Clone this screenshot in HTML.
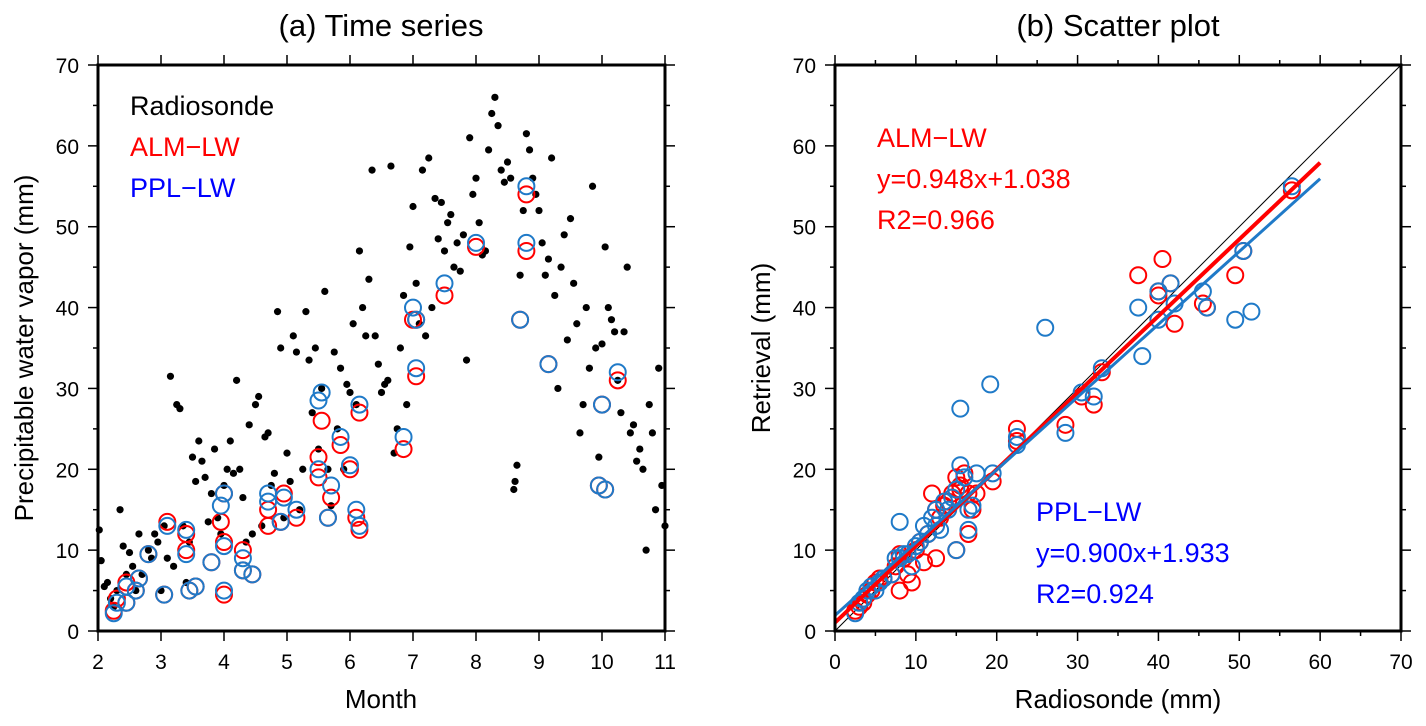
<!DOCTYPE html>
<html><head><meta charset="utf-8"><style>
body{margin:0;background:#fff;}
svg{display:block;font-family:"Liberation Sans",Arial,sans-serif;}
</style></head><body>
<svg id="s" width="1426" height="726" viewBox="0 0 1426 726"></svg>
<script>
// ---- Panel (a) data ----
const dotMonth=[2.02,2.05,2.1,2.15,2.2,2.25,2.3,2.35,2.4,2.45,2.5,2.55,2.6,2.65,2.7,2.8,2.85,2.9,2.95,3.0,3.05,3.1,3.15,3.2,3.25,3.3,3.35,3.4,3.45,3.5,3.55,3.6,3.65,3.7,3.75,3.8,3.85,3.9,3.95,4.0,4.05,4.1,4.15,4.2,4.25,4.3,4.35,4.4,4.45,4.5,4.55,4.6,4.65,4.7,4.75,4.8,4.85,4.9,4.95,5.0,5.05,5.1,5.15,5.2,5.25,5.3,5.35,5.4,5.45,5.5,5.55,5.6,5.65,5.7,5.75,5.8,5.85,5.9,5.95,6.0,6.05,6.1,6.15,6.2,6.25,6.3,6.35,6.4,6.45,6.5,6.55,6.6,6.65,6.7,6.75,6.8,6.85,6.9,6.95,7.0,7.05,7.1,7.15,7.2,7.25,7.3,7.35,7.4,7.45,7.5,7.55,7.6,7.65,7.7,7.75,7.8,7.85,7.9,7.95,8.0,8.05,8.1,8.15,8.2,8.25,8.3,8.35,8.4,8.45,8.5,8.55,8.6,8.62,8.65,8.7,8.75,8.8,8.85,8.9,8.95,9.0,9.05,9.1,9.15,9.2,9.25,9.3,9.35,9.4,9.45,9.5,9.55,9.6,9.65,9.7,9.75,9.8,9.85,9.9,9.95,10.0,10.05,10.1,10.15,10.2,10.25,10.3,10.35,10.4,10.45,10.5,10.55,10.6,10.65,10.7,10.75,10.8,10.85,10.9,10.95,11.0];
const dotValue=[12.5,8.7,5.5,6,4,3,5,15,10.5,7,9.7,8,5,12,7,10,9,12,11,5,13,9,31.5,8,28,27.5,13,6,11,21.5,18.5,23.5,21,19,13.5,17,22.5,14,12,18,20,23.5,19.5,31,20,16.5,11,25.5,12,28,29,13,24,24.5,18,19.5,39.5,35,14,22,18.5,36.5,34.5,15,20,39.5,33.5,27,35,22.5,30,42,20,15.5,34.5,25,32.5,20,30.5,29.5,38,28,47,40,36.5,43.5,57,36.5,33,29.5,30.5,31,57.5,22,25,35,41.5,28,47.5,52.5,43,38,57,36.5,58.5,40,53.5,48.5,53,47,50.5,51.5,45,48,44.5,49,33.5,61,54,56,50.5,46.5,47,59.5,64,66,62.5,57,55.5,58,56,17.5,18.5,20.5,44,52,61.5,59.5,56,54,52,48,44,46,58.5,41.5,30,45,49,36,51,43,38,24.5,28,40,32.5,55,35,21.5,35.5,47.5,40,38.5,37,31,27,37,45,24.5,25.5,21,22.5,20,10,28,24.5,15,32.5,18,13];
const retMonth=[2.25,2.3,2.45,2.45,2.6,2.65,2.8,3.05,3.1,3.4,3.4,3.45,3.55,3.8,3.95,4.0,4.0,4.0,4.3,4.3,4.45,4.7,4.7,4.9,4.95,5.15,5.5,5.5,5.55,5.65,5.7,5.85,6.0,6.1,6.15,6.15,6.85,7.0,7.05,7.05,7.5,8.0,8.7,8.8,8.8,9.15,9.95,10.0,10.05,10.25];
const almValue=[2.5,4,3.5,6,5,6.5,9.5,4.5,13.5,12,10,5,5.5,8.5,13.5,4.5,17,11,7.5,10,7,15,13,13.5,17,14,19,21.5,26,14,16.5,23,20,14,12.5,27,22.5,38.5,31.5,38.5,41.5,47.5,38.5,47,54,33,18,28,17.5,31];
const pplValue=[2.2,3.5,3.5,5.5,5,6.5,9.5,4.5,13,12.5,9.5,5,5.5,8.5,15.5,5,17,10.5,7.5,9,7,17,16,13.5,16.5,15,20,28.5,29.5,14,18,24,20.5,15,13,28,24,40,32.5,38.5,43,48,38.5,48,55,33,18,28,17.5,32];
// ---- Panel (b) data ----
const sondeX=[2.5,3,3.5,4,4.5,5,5.5,6,7,7.5,8,8,8.5,9,9.5,10,10.5,11,11.5,12,12.5,12.5,13,13.5,14,14.5,15,15,15.5,15.5,16,16.5,16.5,17,17.5,19.5,22.5,22.5,26,19.2,28.5,30.5,32,33,37.5,38,40,40,40.5,41.5,42,45.5,46,49.5,50.5,51.5,56.5];
const almY=[2.5,3,3.5,4.5,5,6,6.5,6.5,7,8,5,9.5,9,7,6,10,11,8.5,12,17,9,15,14,15.5,16,17,10,19,18,17.5,19.5,12,17,15,17,18.5,25,23.5,null,null,25.5,29,28,32,44,null,42,41.5,46,43,38,40.5,40,44,47,null,54.5];
const pplY=[2.2,3.5,4,5,5.5,5,6,6.5,7,9,13.5,9,9.5,9.5,8,10.5,11,13,12,14,13,15,12.5,16,15,16.5,10,17.5,27.5,20.5,19,12.5,15,15.5,19.5,19.5,24,23,37.5,30.5,24.5,29.5,29,32.5,40,34,38.5,42,null,43,40.5,42,40,38.5,47,39.5,55];
const almFit=[0.948,1.038], pplFit=[0.900,1.933];
const yTicks=[0,10,20,30,40,50,60,70];
const monthTicks=[2,3,4,5,6,7,8,9,10,11];
const scatterTicks=[0,10,20,30,40,50,60,70];

const NS="http://www.w3.org/2000/svg", S=document.getElementById('s');
function mk(t,a,p){const e=document.createElementNS(NS,t);for(const k in a)e.setAttribute(k,a[k]);(p||S).appendChild(e);return e;}
function txt(x,y,s,size,anchor,fill,p){const e=mk('text',{x:x,y:y,'font-size':size,'text-anchor':anchor||'middle',fill:fill||'#000'},p);e.textContent=s;return e;}
const RED='#ff0000', BLU='#1f7ac8';

// Panel A
const A={l:98,r:665,t:65,b:631};
const ax=m=>A.l+(m-2)/9*(A.r-A.l), ay=v=>A.b-v/70*(A.b-A.t);
const gA=mk('g',{});  
const gDots=mk('g',{},gA);  
dotMonth.forEach((m,i)=>{const c=mk('circle',{cx:ax(m),cy:ay(dotValue[i]),r:3.6,fill:'#000'},gDots);

});
const gAlm=mk('g',{},gA);  
retMonth.forEach((m,i)=>{const c=mk('circle',{cx:ax(m),cy:ay(almValue[i]),r:8,fill:'none',stroke:RED,'stroke-width':2},gAlm);

});
const gPpl=mk('g',{},gA);  
retMonth.forEach((m,i)=>{const c=mk('circle',{cx:ax(m),cy:ay(pplValue[i]),r:8,fill:'none',stroke:BLU,'stroke-width':2},gPpl);

});

// Panel B
const B={l:835,r:1401,t:65,b:631};
const bx=v=>B.l+v/70*(B.r-B.l), by=v=>B.b-v/70*(B.b-B.t);
const gB=mk('g',{});  
const cp=mk('clipPath',{id:'cb'}); mk('rect',{x:B.l,y:B.t,width:B.r-B.l,height:B.b-B.t},cp);
const one=mk('line',{x1:bx(0),y1:by(0),x2:bx(70),y2:by(70),stroke:'#000','stroke-width':1},gB);
 
const gSA=mk('g',{},gB);  
sondeX.forEach((x,i)=>{if(almY[i]==null)return;const c=mk('circle',{cx:bx(x),cy:by(almY[i]),r:8,fill:'none',stroke:RED,'stroke-width':2},gSA);

});
const gSP=mk('g',{},gB);  
sondeX.forEach((x,i)=>{if(pplY[i]==null)return;const c=mk('circle',{cx:bx(x),cy:by(pplY[i]),r:8,fill:'none',stroke:BLU,'stroke-width':2},gSP);

});
const fa=mk('line',{x1:bx(0),y1:by(almFit[1]),x2:bx(60),y2:by(almFit[0]*60+almFit[1]),stroke:RED,'stroke-width':4,'clip-path':'url(#cb)'},gB);
 
const fp=mk('line',{x1:bx(0),y1:by(pplFit[1]),x2:bx(60),y2:by(pplFit[0]*60+pplFit[1]),stroke:BLU,'stroke-width':3,'clip-path':'url(#cb)'},gB);
 

// Frames & ticks
function frame(P,g){const r=mk('rect',{x:P.l,y:P.t,width:P.r-P.l,height:P.b-P.t,fill:'none',stroke:'#000','stroke-width':3},g);
 }
frame(A,gA); frame(B,gB);
function tk(x1,y1,x2,y2,g){mk('line',{x1:x1,y1:y1,x2:x2,y2:y2,stroke:'#000','stroke-width':1.5},g);}
const gAx=mk('g',{},gA);  
monthTicks.forEach(m=>{const x=ax(m);tk(x,A.b,x,A.b+10,gAx);tk(x,A.t,x,A.t-10,gAx);txt(x,A.b+38,String(m),21,'middle','#000',gAx);});
yTicks.forEach(v=>{const y=ay(v);tk(A.l,y,A.l-10,y,gAx);tk(A.r,y,A.r+10,y,gAx);txt(A.l-19,y+8,String(v),21,'end','#000',gAx);
 if(v<70){const y2=ay(v+5);tk(A.l,y2,A.l-5,y2,gAx);tk(A.r,y2,A.r+5,y2,gAx);}});
const gBx=mk('g',{},gB);  
scatterTicks.forEach(v=>{const x=bx(v),y=by(v);
 tk(x,B.b,x,B.b+10,gBx);tk(x,B.t,x,B.t-10,gBx);tk(B.l,y,B.l-10,y,gBx);tk(B.r,y,B.r+10,y,gBx);
 txt(x,B.b+38,String(v),21,'middle','#000',gBx);txt(B.l-19,y+8,String(v),21,'end','#000',gBx);
 if(v<70){const x2=bx(v+5),y2=by(v+5);tk(x2,B.b,x2,B.b+5,gBx);tk(x2,B.t,x2,B.t-5,gBx);tk(B.l,y2,B.l-5,y2,gBx);tk(B.r,y2,B.r+5,y2,gBx);}});

// Titles & labels
let e;
e=txt(381,36,'(a) Time series',31);  
e=txt(1118,36,'(b) Scatter plot',31);  
e=txt(381,708,'Month',26);  
e=txt(1118,708,'Radiosonde (mm)',26);  
e=txt(0,0,'Precipitable water vapor (mm)',26); e.setAttribute('transform','translate(33,348) rotate(-90)');  
e=txt(0,0,'Retrieval (mm)',26); e.setAttribute('transform','translate(770,348) rotate(-90)');  
e=txt(130,115,'Radiosonde',27,'start','#000');  
e=txt(130,156,'ALM−LW',27,'start',RED);  
e=txt(130,197,'PPL−LW',27,'start','#0000ff');  
[['ALM−LW',147],['y=0.948x+1.038',188],['R2=0.966',229]].forEach(([s,y])=>{e=txt(877,y,s,27,'start',RED);
 });
[['PPL−LW',521],['y=0.900x+1.933',562],['R2=0.924',603]].forEach(([s,y])=>{e=txt(1036,y,s,27,'start','#0000ff');
 });
</script>
</body></html>
